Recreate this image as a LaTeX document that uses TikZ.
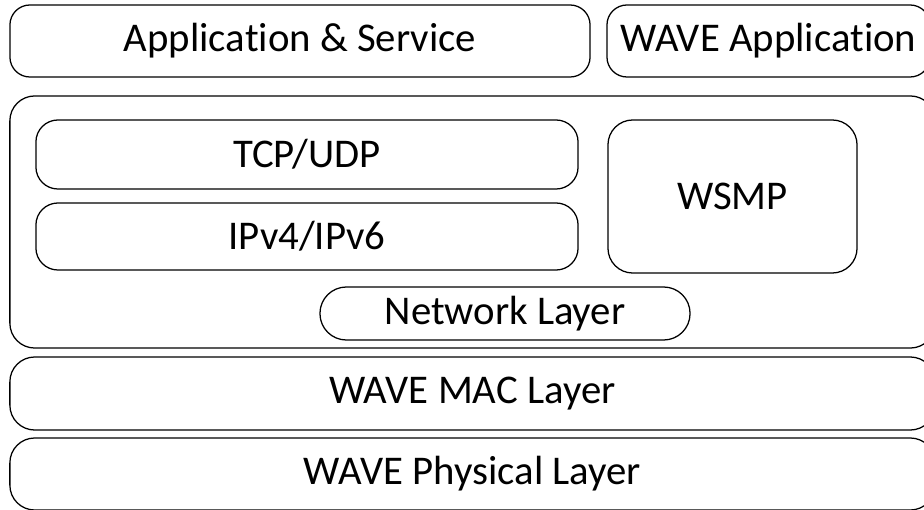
\documentclass[tikz,border=0pt]{standalone}
\usepackage{fontspec}
\setmainfont{Carlito}[Ligatures={NoCommon}]
\tikzset{
  layer/.style={draw, line width=0.9pt, rounded corners=0.5cm, inner sep=0pt,
    font=\fontsize{29}{34}\selectfont},
}
\begin{document}
\begin{tikzpicture}[x=0.025cm, y=-0.025cm]
      \useasboundingbox (0,0) rectangle (924,510);
      \clip (0,0) rectangle (924,510);
      \draw
        (300,41) node[layer, minimum width=14.5cm, minimum height=1.8cm] (app){Application \& Service}
        (768.5,41) node[layer, minimum width=8.075cm, minimum height=1.8cm] (waveapp){WAVE Application}
        (472.5,222) node[layer, rounded corners=0.62cm, minimum width=23.125cm, minimum height=6.3cm] (stack){}
        (307,154.5) node[layer, rounded corners=0.55cm, minimum width=13.55cm, minimum height=1.725cm] (tcp){TCP/UDP}
        (307,236.5) node[layer, rounded corners=0.55cm, minimum width=13.55cm, minimum height=1.675cm] (ip){IPv4/IPv6}
        (732.5,196.5) node[layer, rounded corners=0.62cm, minimum width=6.225cm, minimum height=3.825cm] (wsmp){WSMP}
        (505,313.5) node[layer, rounded corners=0.66cm, minimum width=9.25cm, minimum height=1.325cm] (netlayer){Network Layer}
        (472.5,393.5) node[layer, rounded corners=0.62cm, minimum width=23.125cm, minimum height=1.825cm] (mac){WAVE MAC Layer}
        (472.5,474) node[layer, rounded corners=0.62cm, minimum width=23.125cm, minimum height=1.8cm] (phy){WAVE Physical Layer};
    \end{tikzpicture}
\end{document}
